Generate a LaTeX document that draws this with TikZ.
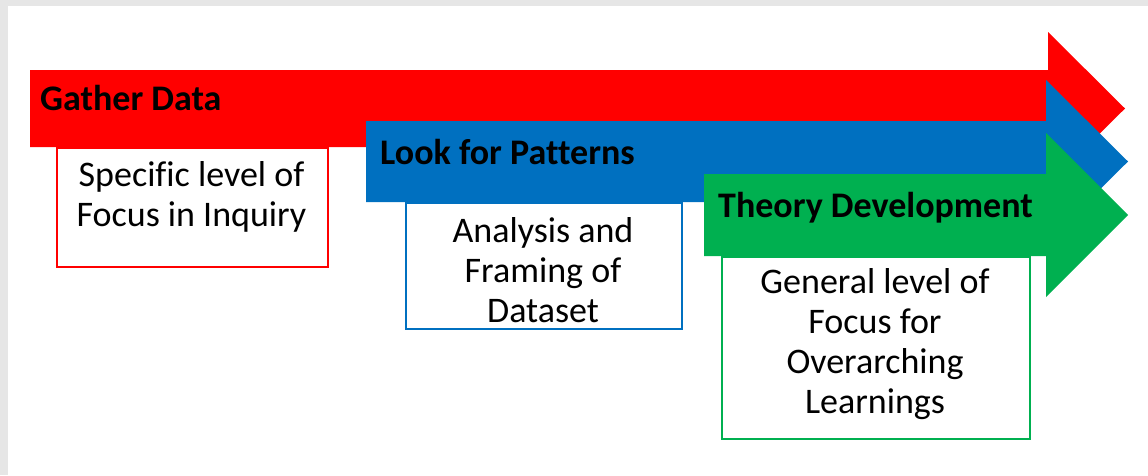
\documentclass[tikz,border=0pt]{standalone}
\usepackage{fontspec}
\setmainfont{Carlito}[Ligatures=CommonOff]
\definecolor{stageRed}{HTML}{FF0000}
\definecolor{stageBlue}{HTML}{0070C0}
\definecolor{stageGreen}{HTML}{00B050}
\definecolor{frameGray}{HTML}{E6E6E6}
\begin{document}
\begin{tikzpicture}[x=1pt,y=-1pt,
  heading/.style={anchor=base west, inner sep=0pt, font=\fontsize{36}{42}\selectfont\bfseries},
  bodytext/.style={anchor=base, inner sep=0pt, align=center, font=\fontsize{36}{40}\selectfont},
  stagebox/.style={draw=#1, line width=1.6pt, fill=white, anchor=north west, inner sep=0pt}]
\useasboundingbox (0,0) rectangle (1148,475);
% page frame
\fill[frameGray] (0,0) rectangle (1148,475);
\fill[white] (8,6) rectangle (1148,475);

% description boxes
\node[stagebox=stageRed, minimum width=271pt, minimum height=119pt] (boxA) at (56,147) {};
\node[stagebox=stageBlue, minimum width=276pt, minimum height=126pt] (boxB) at (405,202) {};
\node[stagebox=stageGreen, minimum width=308pt, minimum height=182pt] (boxC) at (721,256) {};

% stage arrows
\fill[stageRed] (30,70) -- (1048,70) -- (1048,32) -- (1125,108.5) -- (1048,185) -- (1048,147) -- (30,147) -- cycle;
\fill[stageBlue] (366,121) -- (1046,121) -- (1046,80) -- (1128,161.5) -- (1046,243) -- (1046,202) -- (366,202) -- cycle;
\fill[stageGreen] (704,174) -- (1046,174) -- (1046,133) -- (1128,215) -- (1046,297) -- (1046,256) -- (704,256) -- cycle;

% stage titles
\node[heading] (titleA) at (40,110) {Gather Data};
\node[heading] (titleB) at (380,164) {Look for Patterns};
\node[heading] (titleC) at (718,217) {Theory Development};

% descriptions (base anchor sits on the last line)
\node[bodytext] (textA) at (191.5,226) {Specific level of\\Focus in Inquiry};
\node[bodytext] (textB) at (543,322) {Analysis and\\Framing of\\Dataset};
\node[bodytext] (textC) at (875,413) {General level of\\Focus for\\Overarching\\Learnings};
\end{tikzpicture}
\end{document}
